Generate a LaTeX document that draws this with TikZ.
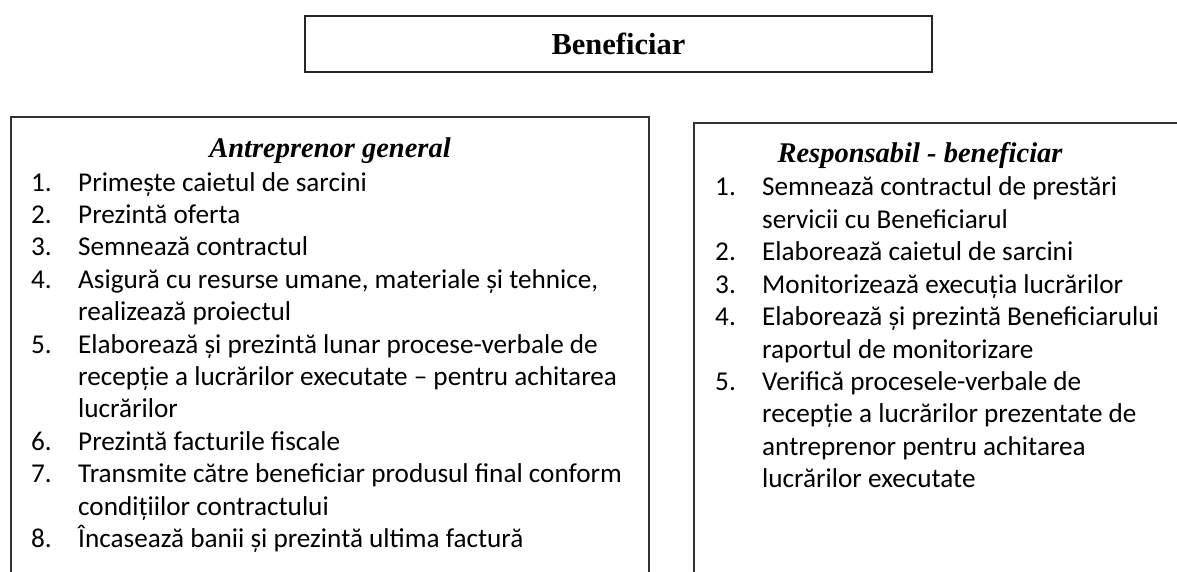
\documentclass[tikz,border=0pt]{standalone}
\usepackage{fontspec}
\setmainfont{Liberation Serif}
\newfontfamily\calib{Carlito}
\begin{document}
\begin{tikzpicture}[x=1pt,y=-1pt,
  item/.style={anchor=base west,inner sep=0pt,font=\calib\fontsize{27.2}{27.2}\selectfont},
  ttl/.style={anchor=base,inner sep=0pt,font=\bfseries\itshape\fontsize{28.5}{28.5}\selectfont},
  frame/.style={draw=black!80,line width=1.1pt}]
\useasboundingbox (0,0) rectangle (1177,572);
% top box
\node[draw=black!85,line width=1.5pt,minimum width=627pt,minimum height=56pt,inner sep=0pt,
  font=\bfseries\fontsize{30.5}{30.5}\selectfont] (ben) at (618.5,44) {Beneficiar};
% left frame
\draw[frame] (11,572) -- (11,117) -- (649,117) -- (649,572);
% right frame
\draw[frame] (694,572) -- (694,123) -- (1177,123);
% left column
\node[ttl] (lt) at (330,158) {Antreprenor general};
\def\ly#1{191+#1*32.4}
\node[item] (ln1) at (31,{\ly{0}}) {1.};
\node[item] (lt1) at (78,{\ly{0}}) {Primește caietul de sarcini};
\node[item] (ln2) at (31,{\ly{1}}) {2.};
\node[item] (lt2) at (78,{\ly{1}}) {Prezintă oferta};
\node[item] (ln3) at (31,{\ly{2}}) {3.};
\node[item] (lt3) at (78,{\ly{2}}) {Semnează contractul};
\node[item] (ln4) at (31,{\ly{3}}) {4.};
\node[item] (lt4) at (78,{\ly{3}}) {Asigură cu resurse umane, materiale și tehnice,};
\node[item] (lt4b) at (78,{\ly{4}}) {realizează proiectul};
\node[item] (ln5) at (31,{\ly{5}}) {5.};
\node[item] (lt5) at (78,{\ly{5}}) {Elaborează și prezintă lunar procese-verbale de};
\node[item] (lt5b) at (78,{\ly{6}}) {recepție a lucrărilor executate – pentru achitarea};
\node[item] (lt5c) at (78,{\ly{7}}) {lucrărilor};
\node[item] (ln6) at (31,{\ly{8}}) {6.};
\node[item] (lt6) at (78,{\ly{8}}) {Prezintă facturile fiscale};
\node[item] (ln7) at (31,{\ly{9}}) {7.};
\node[item] (lt7) at (78,{\ly{9}}) {Transmite către beneficiar produsul final conform};
\node[item] (lt7b) at (78,{\ly{10}}) {condițiilor contractului};
\node[item] (ln8) at (31,{\ly{11}}) {8.};
\node[item] (lt8) at (78,{\ly{11}}) {Încasează banii și prezintă ultima factură};
% right column
\node[ttl] (rt) at (920,163) {Responsabil - beneficiar};
\def\ry#1{196+#1*32.4}
\node[item] (rn1) at (715,{\ry{0}}) {1.};
\node[item] (rt1) at (762,{\ry{0}}) {Semnează contractul de prestări};
\node[item] (rt1b) at (762,{\ry{1}}) {servicii cu Beneficiarul};
\node[item] (rn2) at (715,{\ry{2}}) {2.};
\node[item] (rt2) at (762,{\ry{2}}) {Elaborează caietul de sarcini};
\node[item] (rn3) at (715,{\ry{3}}) {3.};
\node[item] (rt3) at (762,{\ry{3}}) {Monitorizează execuția lucrărilor};
\node[item] (rn4) at (715,{\ry{4}}) {4.};
\node[item] (rt4) at (762,{\ry{4}}) {Elaborează și prezintă Beneficiarului};
\node[item] (rt4b) at (762,{\ry{5}}) {raportul de monitorizare};
\node[item] (rn5) at (715,{\ry{6}}) {5.};
\node[item] (rt5) at (762,{\ry{6}}) {Verifică procesele-verbale de};
\node[item] (rt5b) at (762,{\ry{7}}) {recepție a lucrărilor prezentate de};
\node[item] (rt5c) at (762,{\ry{8}}) {antreprenor pentru achitarea};
\node[item] (rt5d) at (762,{\ry{9}}) {lucrărilor executate};
\end{tikzpicture}
\end{document}
